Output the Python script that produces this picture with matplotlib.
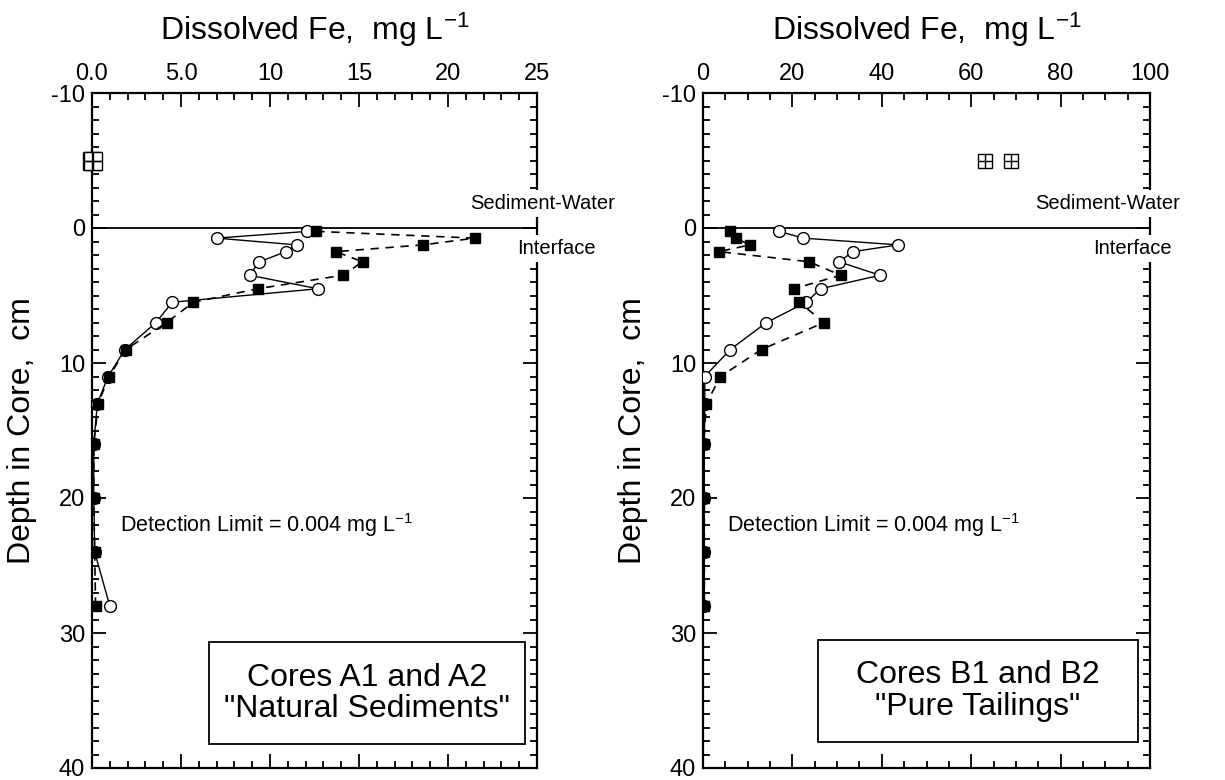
import matplotlib
matplotlib.use('Agg')
import matplotlib.pyplot as plt
from matplotlib.patches import Rectangle
from matplotlib.ticker import MultipleLocator, FixedLocator, FixedFormatter

plt.rcParams.update({
    'font.family': ['Liberation Sans', 'DejaVu Sans'],
    'mathtext.fontset': 'custom',
    'mathtext.rm': 'Liberation Sans',
    'mathtext.it': 'Liberation Sans:italic',
    'axes.unicode_minus': False,
})

# ---- pore-water profiles (depth in cm, Fe in mg/L) ----
depth = [0.25, 0.75, 1.25, 1.75, 2.5, 3.5, 4.5, 5.5, 7, 9, 11, 13, 16, 20, 24, 28]

a1_fe = [12.1, 7.0, 11.5, 10.9, 9.4, 8.85, 12.7, 4.5, 3.6, 1.85, 0.9, 0.3,
         0.1, 0.1, 0.15, 1.0]
a2_fe = [12.6, 21.5, 18.6, 13.7, 15.2, 14.1, 9.3, 5.7, 4.2, 1.9, 0.95, 0.35,
         0.1, 0.1, 0.15, 0.2]

b1_fe = [17.0, 22.4, 43.7, 33.6, 30.4, 39.6, 26.3, 23.1, 14.2, 6.1, 0.4, 0.4,
         0.3, 0.3, 0.3, 0.3]
b2_fe = [6.0, 7.3, 10.5, 3.6, 23.7, 30.8, 20.3, 21.5, 27.1, 13.1, 3.9, 0.75,
         0.15, 0.3, 0.3, 0.3]

# overlying water samples
water_depth = [-5, -5]
water_a_fe = [0.0, 0.05]
water_b_fe = [63.0, 69.0]

panels = [
    dict(pos=[92 / 1225, 1 - 768 / 780, 445 / 1225, 675 / 780],
         core1=a1_fe, core2=a2_fe, water=water_a_fe, xmax=25,
         major=[0, 5, 10, 15, 20, 25],
         labels=['0.0', '5.0', '10', '15', '20', '25'], minor=1,
         water_ms=13, box=(0.263, 0.973, 30.7, 38.2), detect_x=0.063,
         sw_x=1.013, int_x=1.043,
         title='Cores A1 and A2\n"Natural Sediments"'),
    dict(pos=[703 / 1225, 1 - 768 / 780, 447 / 1225, 675 / 780],
         core1=b1_fe, core2=b2_fe, water=water_b_fe, xmax=100,
         major=[0, 20, 40, 60, 80, 100],
         labels=['0', '20', '40', '60', '80', '100'], minor=5,
         water_ms=10, box=(0.257, 0.973, 30.5, 38.1), detect_x=0.054,
         sw_x=0.906, int_x=0.96,
         title='Cores B1 and B2\n"Pure Tailings"'),
]

fig = plt.figure(figsize=(12.25, 7.8), dpi=100)

for p in panels:
    ax = fig.add_axes(p['pos'])
    ax.set_xlim(0, p['xmax'])
    ax.set_ylim(40, -10)
    trans = ax.get_yaxis_transform()

    # sediment-water interface
    ax.plot([0, p['xmax']], [0, 0], color='black', lw=1.3, zorder=2)

    ax.plot(p['core1'], depth, color='black', lw=1.0, marker='o', ms=8.5,
            mfc='white', mec='black', mew=1.0, zorder=4)
    ax.plot(p['core2'], depth, color='black', lw=1.2, ls=(0, (5, 4)),
            marker='s', ms=7, mfc='black', mec='black', zorder=5)

    ax.plot(p['water'], water_depth, ls='none', marker='s', ms=p['water_ms'],
            mfc='white', mec='black', mew=1.0, zorder=6, clip_on=False)
    ax.plot(p['water'], water_depth, ls='none', marker='+', ms=p['water_ms'],
            mec='black', mew=1.0, zorder=7, clip_on=False)

    for s in ax.spines.values():
        s.set_linewidth(1.6)

    ax.xaxis.set_major_locator(FixedLocator(p['major']))
    ax.xaxis.set_major_formatter(FixedFormatter(p['labels']))
    ax.xaxis.set_minor_locator(MultipleLocator(p['minor']))
    ax.yaxis.set_major_locator(MultipleLocator(10))
    ax.yaxis.set_minor_locator(MultipleLocator(1))
    ax.tick_params(which='both', direction='in', top=True, bottom=True,
                   left=True, right=True, labeltop=True, labelbottom=False,
                   labelsize=17, width=1.3)
    ax.tick_params(which='major', length=10)
    ax.tick_params(which='minor', length=5)
    ax.tick_params(axis='x', pad=6)
    ax.tick_params(axis='y', pad=5)

    ax.xaxis.set_label_position('top')
    ax.set_xlabel('Dissolved Fe,  mg L$^{-1}$', fontsize=23, labelpad=16)
    ax.set_ylabel('Depth in Core,  cm', fontsize=23, labelpad=10)

    ax.text(p['sw_x'], -1.8, 'Sediment-Water', transform=trans,
            ha='center', va='center', fontsize=14.5, clip_on=False, zorder=8,
            bbox=dict(facecolor='white', edgecolor='none', pad=3))
    ax.text(p['int_x'], 1.5, 'Interface', transform=trans,
            ha='center', va='center', fontsize=14.5, clip_on=False, zorder=8,
            bbox=dict(facecolor='white', edgecolor='none', pad=3))

    ax.text(p['detect_x'], 22.0, 'Detection Limit = 0.004 mg L$^{-1}$',
            transform=trans, ha='left', va='center', fontsize=15.5)

    x0, x1, y0, y1 = p['box']
    ax.add_patch(Rectangle((x0, y0), x1 - x0, y1 - y0, transform=trans,
                           facecolor='white', edgecolor='black', lw=1.3,
                           zorder=3))
    ax.text((x0 + x1) / 2, (y0 + y1) / 2, p['title'], transform=trans,
            ha='center', va='center', fontsize=23, linespacing=1.05, zorder=4)

fig.savefig('out.png', dpi=100, facecolor='white')
